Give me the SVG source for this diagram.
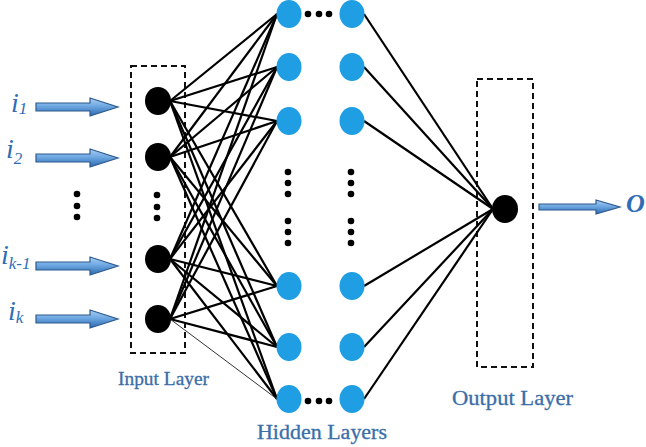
<svg xmlns="http://www.w3.org/2000/svg" width="646" height="447" viewBox="0 0 646 447">
<defs>
<linearGradient id="ag" x1="0" y1="0" x2="0" y2="1">
<stop offset="0" stop-color="#a9cdf1"/>
<stop offset="0.45" stop-color="#6ea8e2"/>
<stop offset="1" stop-color="#2c68ae"/>
</linearGradient>
<style>
.box{fill:none;stroke:#111;stroke-width:2;stroke-dasharray:6 4}
.in{fill:#000}
.hid{fill:#1f9ee3}
.dot{fill:#000}
.arr{fill:url(#ag);stroke:#2d5a8e;stroke-width:1.2}
.lbl{font-family:"Liberation Serif","DejaVu Serif",serif;fill:#3a6ea8;stroke:#3a6ea8;stroke-width:0.3}
.var{font-family:"Liberation Serif","DejaVu Serif",serif;font-style:italic;fill:#2e6db5}
#conn line{stroke:#000;stroke-width:2.2}
</style>
</defs>
<rect width="646" height="447" fill="#fff"/>
<g id="boxes">
<rect class="box" x="131" y="66" width="54" height="287"/>
<rect class="box" x="477" y="79" width="56" height="288"/>
</g>
<g id="conn">
<line x1="170" y1="101" x2="277" y2="14"/><line x1="170" y1="101" x2="277" y2="67"/><line x1="170" y1="101" x2="277" y2="121"/><line x1="170" y1="101" x2="277" y2="286"/><line x1="170" y1="101" x2="277" y2="347"/><line x1="170" y1="101" x2="277" y2="399"/>
<line x1="170" y1="157" x2="277" y2="14"/><line x1="170" y1="157" x2="277" y2="67"/><line x1="170" y1="157" x2="277" y2="121"/><line x1="170" y1="157" x2="277" y2="286"/><line x1="170" y1="157" x2="277" y2="347"/><line x1="170" y1="157" x2="277" y2="399"/>
<line x1="170" y1="259" x2="277" y2="14"/><line x1="170" y1="259" x2="277" y2="67"/><line x1="170" y1="259" x2="277" y2="121"/><line x1="170" y1="259" x2="277" y2="286"/><line x1="170" y1="259" x2="277" y2="347"/><line x1="170" y1="259" x2="277" y2="399"/>
<line x1="170" y1="319" x2="277" y2="14"/><line x1="170" y1="319" x2="277" y2="67"/><line x1="170" y1="319" x2="277" y2="121"/><line x1="170" y1="319" x2="277" y2="286"/><line x1="170" y1="319" x2="277" y2="347"/><line x1="170" y1="319" x2="277" y2="399" style="stroke-width:1;stroke:#333"/>
<line x1="364" y1="14" x2="493" y2="209"/><line x1="364" y1="67" x2="493" y2="209"/><line x1="364" y1="121" x2="493" y2="209"/><line x1="364" y1="286" x2="493" y2="209"/><line x1="364" y1="347" x2="493" y2="209"/><line x1="364" y1="399" x2="493" y2="209"/>
</g>
<g id="input-arrows">
<path class="arr" d="M36,103 H90 V98 L118,107 L90,116 V111 H36 Z"/>
<path class="arr" d="M36,154 H90 V149 L118,158 L90,167 V162 H36 Z"/>
<path class="arr" d="M36,262 H90 V257 L118,266 L90,275 V270 H36 Z"/>
<path class="arr" d="M36,315 H90 V310 L118,319 L90,328 V323 H36 Z"/>
</g>
<g id="input-labels">
<text class="var" x="11" y="112" font-size="28">i<tspan font-size="17" dy="2">1</tspan></text>
<text class="var" x="6" y="158" font-size="28">i<tspan font-size="17" dy="6">2</tspan></text>
<text class="var" x="1" y="264" font-size="28">i<tspan font-size="17" dy="5">k-1</tspan></text>
<text class="var" x="8" y="320" font-size="28">i<tspan font-size="17" dy="3">k</tspan></text>
</g>
<g id="left-dots">
<circle class="dot" cx="77" cy="194" r="3.3"/><circle class="dot" cx="77" cy="206" r="3.3"/><circle class="dot" cx="77" cy="217" r="3.3"/>
</g>
<g id="input-layer">
<ellipse class="in" cx="158" cy="101" rx="13" ry="14"/>
<ellipse class="in" cx="158" cy="157" rx="13" ry="14"/>
<circle class="dot" cx="157" cy="195" r="3.3"/><circle class="dot" cx="157" cy="207" r="3.3"/><circle class="dot" cx="157" cy="218" r="3.3"/>
<ellipse class="in" cx="158" cy="259" rx="13" ry="14"/>
<ellipse class="in" cx="158" cy="319" rx="13" ry="14"/>
</g>
<g id="hidden-layer-1">
<ellipse class="hid" cx="289" cy="14" rx="12.5" ry="14"/>
<ellipse class="hid" cx="289" cy="67" rx="12.5" ry="14"/>
<ellipse class="hid" cx="289" cy="121" rx="12.5" ry="14"/>
<circle class="dot" cx="288" cy="172" r="3.3"/><circle class="dot" cx="288" cy="183" r="3.3"/><circle class="dot" cx="288" cy="194" r="3.3"/>
<circle class="dot" cx="288" cy="221" r="3.3"/><circle class="dot" cx="288" cy="232" r="3.3"/><circle class="dot" cx="288" cy="243" r="3.3"/>
<ellipse class="hid" cx="289" cy="286" rx="12.5" ry="14"/>
<ellipse class="hid" cx="289" cy="347" rx="12.5" ry="14"/>
<ellipse class="hid" cx="289" cy="399" rx="12.5" ry="14"/>
</g>
<g id="hidden-dots">
<circle class="dot" cx="308" cy="14" r="3.3"/><circle class="dot" cx="319" cy="14" r="3.3"/><circle class="dot" cx="329" cy="14" r="3.3"/>
<circle class="dot" cx="308" cy="401" r="3.3"/><circle class="dot" cx="319" cy="401" r="3.3"/><circle class="dot" cx="329" cy="401" r="3.3"/>
</g>
<g id="hidden-layer-2">
<ellipse class="hid" cx="352" cy="14" rx="12.5" ry="14"/>
<ellipse class="hid" cx="352" cy="67" rx="12.5" ry="14"/>
<ellipse class="hid" cx="352" cy="121" rx="12.5" ry="14"/>
<circle class="dot" cx="351" cy="172" r="3.3"/><circle class="dot" cx="351" cy="183" r="3.3"/><circle class="dot" cx="351" cy="194" r="3.3"/>
<circle class="dot" cx="351" cy="221" r="3.3"/><circle class="dot" cx="351" cy="232" r="3.3"/><circle class="dot" cx="351" cy="243" r="3.3"/>
<ellipse class="hid" cx="352" cy="286" rx="12.5" ry="14"/>
<ellipse class="hid" cx="352" cy="347" rx="12.5" ry="14"/>
<ellipse class="hid" cx="352" cy="399" rx="12.5" ry="14"/>
</g>
<g id="output-layer">
<ellipse class="in" cx="505" cy="209" rx="13" ry="14"/>
<path class="arr" d="M539,204 H596 V200 L620,207 L596,214 V210 H539 Z"/>
<text class="var" x="626" y="212" font-size="26" font-weight="bold">O</text>
</g>
<g id="labels">
<text class="lbl" x="118" y="385" font-size="19" textLength="91" lengthAdjust="spacingAndGlyphs">Input Layer</text>
<text class="lbl" x="257" y="439" font-size="20" textLength="130" lengthAdjust="spacingAndGlyphs">Hidden Layers</text>
<text class="lbl" x="452" y="405" font-size="21" textLength="121" lengthAdjust="spacingAndGlyphs">Output Layer</text>
</g>
</svg>
